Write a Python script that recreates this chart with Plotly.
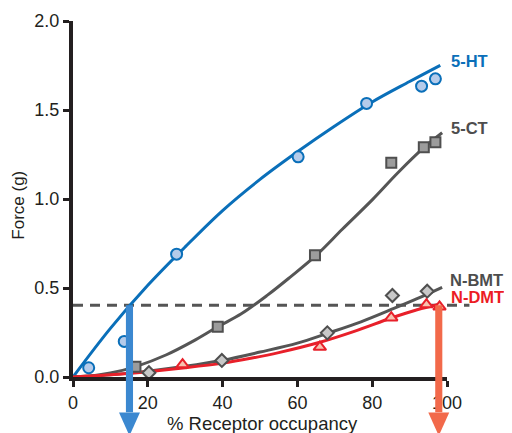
import plotly.graph_objects as go

# ---------------- data ----------------
# measured points (x = % receptor occupancy, y = force in g)
ht_x = [4.2, 13.7, 27.7, 60.2, 78.5, 93.2, 96.9]
ht_y = [0.052, 0.20, 0.69, 1.237, 1.537, 1.634, 1.675]

ct_x = [16.7, 38.7, 64.7, 85.1, 93.8, 96.9]
ct_y = [0.057, 0.282, 0.684, 1.203, 1.291, 1.319]

bmt_x = [20.3, 39.8, 68.0, 85.4, 94.7]
bmt_y = [0.024, 0.093, 0.248, 0.458, 0.482]

dmt_x = [29.3, 66.0, 85.1, 94.5, 98.0]
dmt_y = [0.07, 0.168, 0.333, 0.407, 0.394]

# fitted curves
ht_fit_x = [0, 10, 20, 30, 40, 50, 60, 70, 80, 90, 98.2]
ht_fit_y = [0, 0.273, 0.515, 0.731, 0.935, 1.11, 1.265, 1.41, 1.545, 1.66, 1.751]

ct_fit_x = [0, 5, 10, 17, 25, 32, 38.7, 45, 52, 58, 65, 72, 80, 87, 93.8, 98.7]
ct_fit_y = [0, 0.006, 0.022, 0.06, 0.125, 0.2, 0.282, 0.355, 0.46, 0.56, 0.683, 0.83, 0.995, 1.15, 1.288, 1.372]

bmt_fit_x = [0, 10, 20, 30, 40, 50, 60, 68, 77, 85.8, 92, 98.7]
bmt_fit_y = [0, 0.012, 0.033, 0.06, 0.094, 0.14, 0.19, 0.245, 0.31, 0.385, 0.44, 0.504]

dmt_fit_x = [0, 10, 20, 30, 40, 47.5, 55, 66, 75, 85.3, 92, 98.2]
dmt_fit_y = [0, 0.012, 0.03, 0.052, 0.078, 0.105, 0.137, 0.195, 0.255, 0.333, 0.378, 0.41]

threshold = 0.403          # dashed reference force
threshold_end = 106        # dashed line extends past axis end
arrow_ht_x = 15.1          # occupancy where 5-HT reaches threshold
arrow_dmt_x = 97.8         # occupancy where N-DMT reaches threshold

series_labels = ["5-HT", "5-CT", "N-BMT", "N-DMT"]
x_ticks = [0, 20, 40, 60, 80, 100]
y_ticks = [0.0, 0.5, 1.0, 1.5, 2.0]

XR = [0, 100]
YR = [0, 2.0]

BLUE = "#0a6fb9"
GRAY = "#555555"
RED = "#e8202a"
AXC = "#231f20"
FONT = "Liberation Sans, Arial, sans-serif"


def px_(v):
    return (v - XR[0]) / (XR[1] - XR[0])


def py_(v):
    return (v - YR[0]) / (YR[1] - YR[0])


fig = go.Figure()

# fitted curves
for fx, fy, col in [(ht_fit_x, ht_fit_y, BLUE), (ct_fit_x, ct_fit_y, GRAY),
                    (bmt_fit_x, bmt_fit_y, GRAY), (dmt_fit_x, dmt_fit_y, RED)]:
    fig.add_trace(go.Scatter(x=fx, y=fy, mode="lines",
                             line=dict(color=col, width=3, shape="spline", smoothing=1.0),
                             cliponaxis=False, showlegend=False, hoverinfo="skip"))

# markers
fig.add_trace(go.Scatter(x=ct_x, y=ct_y, mode="markers", cliponaxis=False, showlegend=False,
                         marker=dict(symbol="square", size=10, color="#9c9c9c",
                                     line=dict(color="#4f4f4f", width=2))))
fig.add_trace(go.Scatter(x=bmt_x, y=bmt_y, mode="markers", cliponaxis=False, showlegend=False,
                         marker=dict(symbol="diamond", size=10, color="#c8c8c8",
                                     line=dict(color="#4f4f4f", width=2))))
fig.add_trace(go.Scatter(x=dmt_x, y=dmt_y, mode="markers", cliponaxis=False, showlegend=False,
                         marker=dict(symbol="triangle-up", size=11, color="#f7c2b0",
                                     line=dict(color=RED, width=2))))
fig.add_trace(go.Scatter(x=ht_x, y=ht_y, mode="markers", cliponaxis=False, showlegend=False,
                         marker=dict(symbol="circle", size=11, color="#b5cbea",
                                     line=dict(color=BLUE, width=2))))

# dashed threshold line
fig.add_shape(type="line", xref="paper", yref="y", x0=0, x1=px_(threshold_end),
              y0=threshold, y1=threshold, layer="below",
              line=dict(color="#555555", width=3, dash="10px,7px"))

# arrows (shaft + head), drawn in paper coords so they can go below the axis
head_top = -0.2      # y (data units) where the arrow head starts
head_tip = -0.33
head_half = 2.8      # x half width of head (data units)
shaft_half = 0.95
for ax_, col in [(arrow_ht_x, "#3b88d0"), (arrow_dmt_x, "#f2694a")]:
    fig.add_shape(type="rect", xref="paper", yref="paper",
                  x0=px_(ax_ - shaft_half), x1=px_(ax_ + shaft_half),
                  y0=py_(head_top) + 0.001, y1=py_(threshold),
                  fillcolor=col, line=dict(width=0), layer="above")
    path = "M {a},{b} L {c},{b} L {d},{e} Z".format(
        a=px_(ax_ - head_half), b=py_(head_top), c=px_(ax_ + head_half),
        d=px_(ax_), e=py_(head_tip))
    fig.add_shape(type="path", xref="paper", yref="paper", path=path,
                  fillcolor=col, line=dict(width=0), layer="above")

# series labels
label_pos = [(1.005, 0.888, BLUE), (1.005, 0.700, "#4d4d4d"),
             (1.002, 0.272, "#4d4d4d"), (1.006, 0.224, "#ec1c24")]
for txt, (lx, ly, col) in zip(series_labels, label_pos):
    fig.add_annotation(x=lx, y=ly, xref="paper", yref="paper", text="<b>%s</b>" % txt,
                       showarrow=False, xanchor="left", yanchor="middle",
                       font=dict(size=16.5, color=col, family=FONT))

# axis titles
fig.add_annotation(x=-0.148, y=0.483, xref="paper", yref="paper", text="Force (g)",
                   showarrow=False, textangle=-90, xanchor="center", yanchor="middle",
                   font=dict(size=17, color=AXC, family=FONT))
fig.add_annotation(x=0.508, y=-0.132, xref="paper", yref="paper", text="% Receptor occupancy",
                   showarrow=False, xanchor="center", yanchor="middle",
                   font=dict(size=18.5, color=AXC, family=FONT))

# the page adds an 8px body margin, so the figure is offset by 8px
fig.update_layout(
    width=504, height=425,
    margin=dict(l=65, r=65, t=13, b=56),
    paper_bgcolor="white", plot_bgcolor="white",
    font=dict(family=FONT, color=AXC, size=17),
    showlegend=False,
)
fig.update_xaxes(range=XR, tickvals=x_ticks, ticktext=[str(v) for v in x_ticks],
                 showline=True, linecolor=AXC, linewidth=4, ticks="outside",
                 ticklen=6, tickwidth=3, tickcolor=AXC, showgrid=False, zeroline=False,
                 automargin=False,
                 tickfont=dict(size=18, color=AXC, family=FONT))
fig.update_yaxes(range=YR, tickvals=y_ticks, ticktext=["%.1f" % v for v in y_ticks],
                 showline=True, linecolor=AXC, linewidth=4, ticks="outside",
                 ticklen=6, tickwidth=3, tickcolor=AXC, showgrid=False, zeroline=False,
                 automargin=False,
                 tickfont=dict(size=18, color=AXC, family=FONT))

fig.write_html("out.html")
